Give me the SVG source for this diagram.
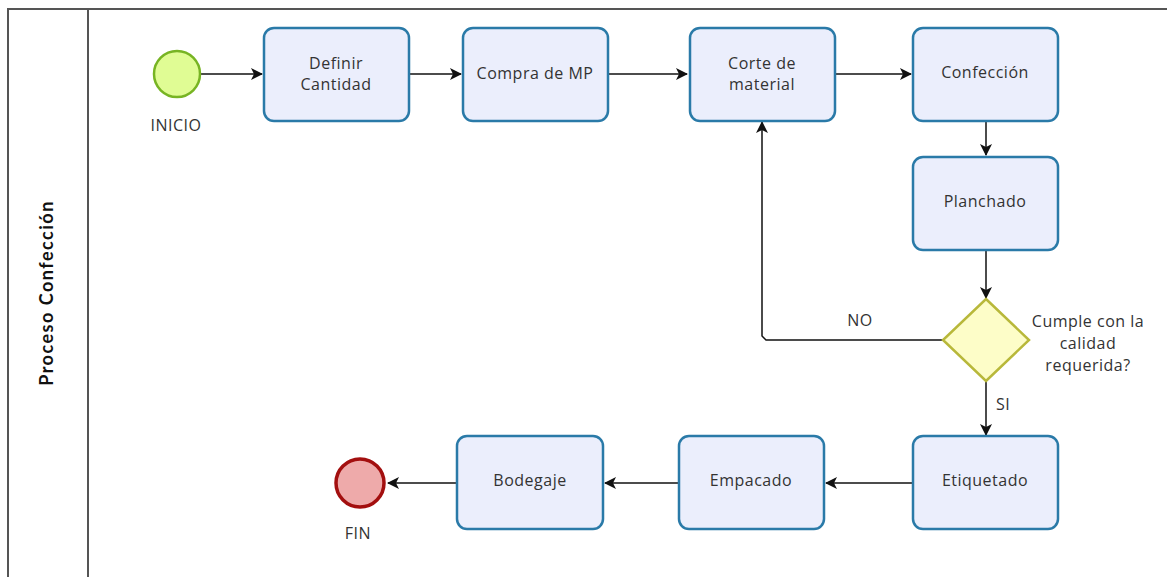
<svg xmlns="http://www.w3.org/2000/svg" width="1167" height="577" viewBox="0 0 1167 577">
<defs>
<style>
.lane{fill:none;stroke:#555;stroke-width:2}
.task rect{fill:#ebeefc;stroke:#2a7aa8;stroke-width:2.5}
.t{font-family:"Open Sans","Noto Sans",sans-serif;font-size:16px;letter-spacing:0.5px;fill:#333;text-anchor:middle}
.c{fill:none;stroke:#111;stroke-width:1.5}
</style>
<marker id="ah" viewBox="0 0 12 12" refX="11" refY="6" markerWidth="12" markerHeight="12" markerUnits="userSpaceOnUse" orient="auto">
<path d="M0,0 L12,6 L0,12 L3,6 Z" fill="#111"/>
</marker>
</defs>
<rect width="1167" height="577" fill="#fff"/>
<g id="lane">
<path class="lane" d="M8,590 V9 H1167"/>
<path class="lane" d="M88,9 V590"/>
<text x="53" y="293" transform="rotate(-90 53 293)" font-family="Lato,'Open Sans',sans-serif" font-weight="bold" font-size="18" letter-spacing="1.5" fill="#111" text-anchor="middle">Proceso Confección</text>
</g>
<g id="connectors">
<path class="c" d="M201,74 H262" marker-end="url(#ah)"/>
<path class="c" d="M409,74 H461" marker-end="url(#ah)"/>
<path class="c" d="M608,74 H687" marker-end="url(#ah)"/>
<path class="c" d="M835,74 H911" marker-end="url(#ah)"/>
<path class="c" d="M986,120 V155" marker-end="url(#ah)"/>
<path class="c" d="M986,250 V298" marker-end="url(#ah)"/>
<path class="c" d="M986,381 V435" marker-end="url(#ah)"/>
<path class="c" d="M943,340 H766 L762,336 V122" marker-end="url(#ah)" stroke="#444"/>
<path class="c" d="M913,483 H826" marker-end="url(#ah)"/>
<path class="c" d="M679,483 H605" marker-end="url(#ah)"/>
<path class="c" d="M457,483 H388" marker-end="url(#ah)"/>
<text class="t" x="860" y="326">NO</text>
<text class="t" x="1003" y="410">SI</text>
</g>
<g id="inicio">
<circle cx="177" cy="74" r="23" fill="#e0fc94" stroke="#77b423" stroke-width="2.5"/>
<text class="t" x="176" y="131">INICIO</text>
</g>
<g id="definir" class="task">
<rect x="264" y="28" width="145" height="93" rx="10"/>
<text class="t" x="336" y="69">Definir</text>
<text class="t" x="336" y="90">Cantidad</text>
</g>
<g id="compra" class="task">
<rect x="463" y="28" width="145" height="93" rx="10"/>
<text class="t" x="535" y="79">Compra de MP</text>
</g>
<g id="corte" class="task">
<rect x="690" y="28" width="145" height="93" rx="10"/>
<text class="t" x="762" y="69">Corte de</text>
<text class="t" x="762" y="90">material</text>
</g>
<g id="confeccion" class="task">
<rect x="913" y="28" width="145" height="93" rx="10"/>
<text class="t" x="985" y="78">Confección</text>
</g>
<g id="planchado" class="task">
<rect x="913" y="157" width="145" height="93" rx="10"/>
<text class="t" x="985" y="207">Planchado</text>
</g>
<g id="decision">
<path d="M986,299 L1029,340 L986,381 L943,340 Z" fill="#fdfdc8" stroke="#b8b83a" stroke-width="2.5"/>
<text class="t" x="1088" y="327">Cumple con la</text>
<text class="t" x="1088" y="349">calidad</text>
<text class="t" x="1088" y="371">requerida?</text>
</g>
<g id="etiquetado" class="task">
<rect x="913" y="436" width="145" height="93" rx="10"/>
<text class="t" x="985" y="486">Etiquetado</text>
</g>
<g id="empacado" class="task">
<rect x="679" y="436" width="145" height="93" rx="10"/>
<text class="t" x="751" y="486">Empacado</text>
</g>
<g id="bodegaje" class="task">
<rect x="457" y="436" width="146" height="93" rx="10"/>
<text class="t" x="530" y="486">Bodegaje</text>
</g>
<g id="fin">
<circle cx="360" cy="483" r="24" fill="#eeaaaa" stroke="#a30f0f" stroke-width="3.5"/>
<text class="t" x="358" y="539">FIN</text>
</g>
</svg>
